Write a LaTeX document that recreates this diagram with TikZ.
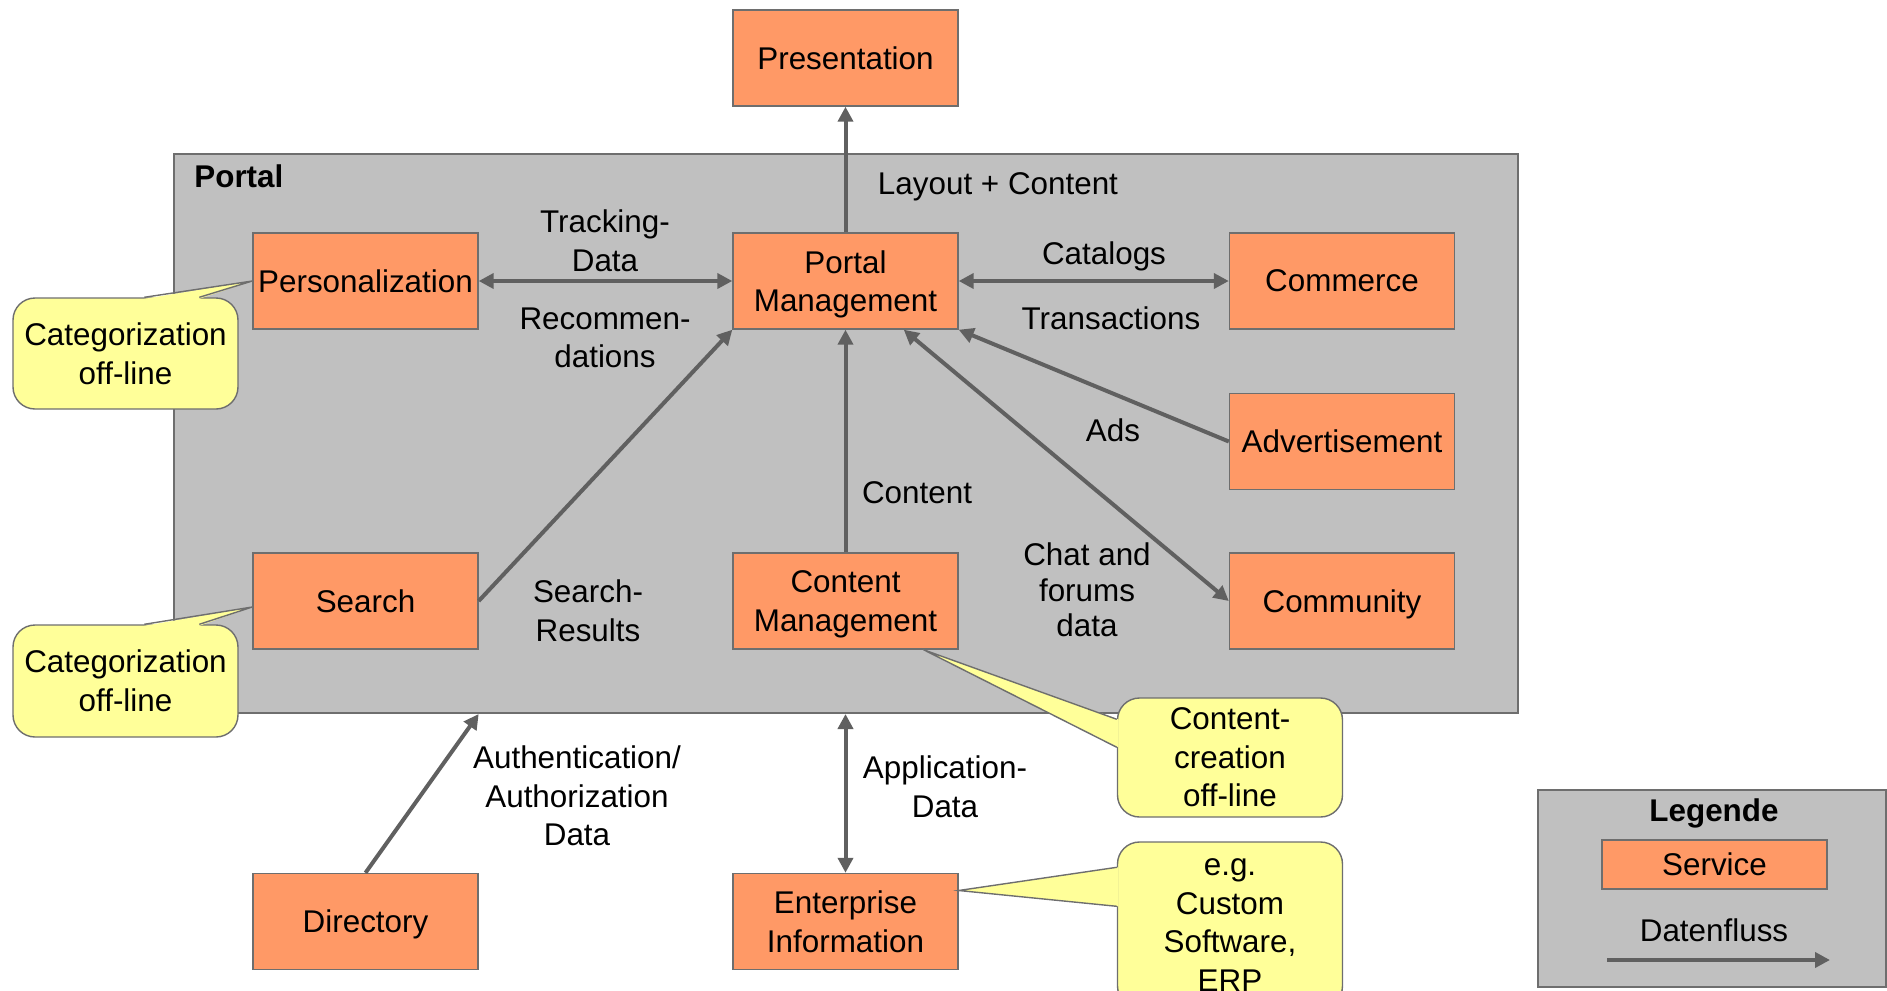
\documentclass[tikz,border=0pt]{standalone}
\usepackage{fontspec}
\setmainfont{Liberation Sans}
\usetikzlibrary{arrows.meta,calc}

\definecolor{svcfill}{RGB}{255,153,102}
\definecolor{svcline}{RGB}{110,110,110}
\definecolor{portalfill}{RGB}{192,192,192}
\definecolor{notefill}{RGB}{255,255,153}
\definecolor{flowgray}{RGB}{96,96,96}

\begin{document}
\begin{tikzpicture}[x=0.5pt, y=-0.5pt,
    every node/.style={font=\fontsize{15.7}{19.3}\selectfont},
    service/.style={draw=svcline, line width=0.7pt, fill=svcfill, minimum width=112.5pt, minimum height=48pt, inner xsep=1pt, text depth=0pt, align=center},
    note/.style={draw=svcline, line width=0.7pt, fill=notefill, rounded corners=11pt, minimum width=112.5pt, inner xsep=2pt, align=center},
    notedraw/.style={draw=svcline, line width=0.7pt},
    flow/.style={draw=flowgray, line width=2pt, -{Triangle[length=7.5pt,width=7.5pt]}},
    flowboth/.style={flow, {Triangle[length=7.5pt,width=7.5pt]}-{Triangle[length=7.5pt,width=7.5pt]}},
    lbl/.style={align=center}]

    \useasboundingbox (0,0) rectangle (1887,991);
    \clip (0,0) rectangle (1887,991);

    % Portal area
    \node[draw=svcline, line width=1pt, fill=portalfill, minimum width=672pt, minimum height=279.5pt, inner sep=0pt] (portal) at (846,433.5) {};
    \node[anchor=west, inner sep=0pt, font=\fontsize{15.7}{19.3}\selectfont\bfseries] (portaltitle) at (194,176) {Portal};

    % Services
    \node[service] (pres) at (845.5,58) {Presentation};
    \node[service] (pm) at (845.5,281) {Portal\\Management};
    \node[service] (pers) at (365.5,281) {Personalization};
    \node[service] (com) at (1342,281) {Commerce};
    \node[service] (adv) at (1342,441.5) {Advertisement};
    \node[service] (comm) at (1342,601) {Community};
    \node[service] (search) at (365.5,601) {Search};
    \node[service] (cm) at (845.5,601) {Content\\Management};
    \node[service] (dir) at (365.5,921.5) {Directory};
    \node[service] (ent) at (845.5,921.5) {Enterprise\\Information};

    % Data flows
    \draw[flow] (pm.north) -- (pres.south);
    \draw[flowboth] (pers.east) -- (pm.west);
    \draw[flowboth] (pm.east) -- (com.west);
    \draw[flow] (search.east) -- (pm.south west);
    \draw[flow] (cm.north) -- (pm.south);
    \draw[flow] (adv.west) -- (pm.south east);
    \draw[flowboth] (comm.west) -- (pm);
    \draw[flow] (dir.north) -- (portal.south -| search.east);
    \draw[flowboth] (ent.north) -- (ent.north |- portal.south);

    % Flow labels
    \node[lbl] (lLayout) at (998,187) {Layout + Content};
    \node[lbl] (lTrack) at (605,241) {Tracking-\\Data};
    \node[lbl] (lRecom) at (605,338) {Recommen-\\dations};
    \node[lbl] (lCat) at (1104,256) {Catalogs};
    \node[lbl] (lTrans) at (1111,318) {Transactions};
    \node[lbl] (lAds) at (1113,430) {Ads};
    \node[lbl] (lContent) at (917,493) {Content};
    \node[lbl] (lChat) at (1087,590) {Chat and\\[-1.5pt]forums\\[-1.5pt]data};
    \node[lbl] (lSearch) at (588,611) {Search-\\Results};
    \node[lbl] (lAuth) at (577,796) {Authentication/\\Authorization\\Data};
    \node[lbl] (lApp) at (945,787) {Application-\\Data};

    % Notes
    \node[note, minimum height=55.5pt] (cat1) at (125.5,353.5) {Categorization\\off-line};
    \fill[notefill] ($(cat1.north west)+(132,1.5)$) -- (pers.west) -- ($(cat1.north west)+(187,1.5)$) -- cycle;
    \draw[notedraw] ($(cat1.north west)+(132,0)$) -- (pers.west) -- ($(cat1.north west)+(187,0)$);

    \node[note, minimum height=56pt] (cat2) at (125.5,681) {Categorization\\off-line};
    \fill[notefill] ($(cat2.north west)+(132,1.5)$) -- ($(search.west)+(0,6)$) -- ($(cat2.north west)+(187,1.5)$) -- cycle;
    \draw[notedraw] ($(cat2.north west)+(132,0)$) -- ($(search.west)+(0,6)$) -- ($(cat2.north west)+(187,0)$);

    \node[note, minimum height=59.5pt] (cc) at (1230,757.5) {Content-\\creation\\off-line};
    \fill[notefill] ($(cc.north west)+(1.5,22)$) -- ($(cm.south)+(78,0)$) -- ($(cc.north west)+(1.5,50)$) -- cycle;
    \draw[notedraw] ($(cc.north west)+(0,22)$) -- ($(cm.south)+(78,0)$) -- ($(cc.north west)+(0,50)$);

    \node[note, minimum height=83pt] (eg) at (1230,925) {e.g.\\Custom\\Software,\\ERP};
    \fill[notefill] ($(eg.north west)+(1.5,26)$) -- ($(ent.east)+(0,-31)$) -- ($(eg.north west)+(1.5,65)$) -- cycle;
    \draw[notedraw] ($(eg.north west)+(0,26)$) -- ($(ent.east)+(0,-31)$) -- ($(eg.north west)+(0,65)$);

    % Legend
    \node[draw=svcline, line width=1pt, fill=portalfill, minimum width=174pt, minimum height=98.5pt, inner sep=0pt] (legend) at (1712,888.5) {};
    \node[font=\fontsize{15.7}{19.3}\selectfont\bfseries] (legtitle) at (1714,813) {Legende};
    \node[service, minimum height=24.5pt] (legsvc) at (1714.5,864.5) {Service};
    \node (legflow) at (1714,930) {Datenfluss};
    \coordinate (legA) at (1607,960);
    \coordinate (legB) at (1830,960);
    \draw[flow] (legA) -- (legB);
\end{tikzpicture}
\end{document}
